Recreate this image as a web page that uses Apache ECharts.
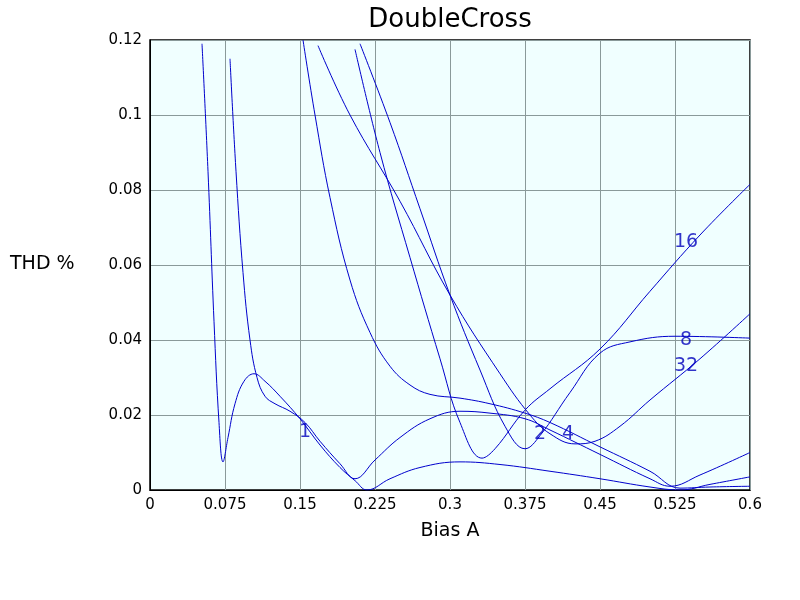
<!DOCTYPE html><html><head><meta charset="utf-8"><script src="https://cdn.jsdelivr.net/npm/echarts@6/dist/echarts.min.js"></script></head><body style="margin:0"><div id="c" style="width:800px;height:600px"></div><script>
const curveC=[[0.052,0.119],[0.058,0.085],[0.064,0.045],[0.069,0.018],[0.073,0.0075],[0.078,0.014],[0.085,0.023],[0.094,0.029],[0.104,0.031],[0.115,0.029],[0.13,0.025],[0.15,0.019],[0.17,0.012],[0.19,0.006],[0.205,0.0025],[0.217,0],[0.24,0.003],[0.27,0.006],[0.31,0.0075],[0.35,0.0068],[0.4,0.005],[0.45,0.003],[0.5,0.0008],[0.53,0],[0.56,0.0015],[0.6,0.0035]];
const curveB=[[0.08,0.115],[0.086,0.085],[0.093,0.058],[0.1,0.04],[0.107,0.03],[0.115,0.025],[0.125,0.023],[0.14,0.021],[0.155,0.018],[0.17,0.013],[0.19,0.007],[0.205,0.003],[0.225,0.008],[0.25,0.014],[0.28,0.019],[0.31,0.021],[0.34,0.0205],[0.375,0.019],[0.4,0.016],[0.45,0.0095],[0.5,0.003],[0.52,0.001],[0.55,0.004],[0.6,0.01]];
const curveP=[[0.153,0.12],[0.165,0.1],[0.18,0.078],[0.2,0.056],[0.22,0.042],[0.24,0.033],[0.26,0.028],[0.28,0.0255],[0.31,0.0245],[0.34,0.023],[0.375,0.0205],[0.4,0.018],[0.45,0.0115],[0.5,0.005],[0.53,0.0005],[0.56,0.0008],[0.6,0.001]];
const curve32=[[0.168,0.1185],[0.2,0.1],[0.25,0.077],[0.3,0.052],[0.35,0.031],[0.38,0.02],[0.4,0.015],[0.425,0.0123],[0.445,0.013],[0.47,0.017],[0.5,0.024],[0.55,0.035],[0.6,0.047]];
const curve16=[[0.205,0.1175],[0.23,0.09],[0.26,0.062],[0.29,0.035],[0.31,0.018],[0.332,0.0085],[0.345,0.011],[0.375,0.0213],[0.4,0.027],[0.45,0.0376],[0.5,0.053],[0.55,0.068],[0.6,0.0815]];
const curve8=[[0.21,0.119],[0.24,0.098],[0.27,0.075],[0.3,0.052],[0.33,0.032],[0.355,0.017],[0.375,0.011],[0.39,0.0145],[0.42,0.026],[0.45,0.0365],[0.48,0.0395],[0.525,0.041],[0.6,0.0405]];
const labels=[['1',0.155,0.0155],['2',0.39,0.015],['4',0.418,0.015],['16',0.536,0.066],['8',0.536,0.040],['32',0.536,0.033]];
const xTicks=[0,0.075,0.15,0.225,0.3,0.375,0.45,0.525,0.6];
const all=[curveC,curveB,curveP,curve32,curve16,curve8];
const series=all.map((d,i)=>({type:'line',data:d,smooth:0.4,showSymbol:false,lineStyle:{color:'#0000cc',width:1},silent:true}));
series.push({type:'scatter',symbolSize:0,silent:true,data:labels.map(l=>({value:[l[1],l[2]],name:l[0]})),label:{show:true,position:'inside',formatter:'{b}',color:'#0000bb',fontSize:19,fontFamily:'DejaVu Sans'}});
const ch=echarts.init(document.getElementById('c'));
ch.setOption({animation:false,
title:{text:'DoubleCross',left:445,textAlign:'center',top:2,textStyle:{fontSize:26,fontWeight:'normal',color:'#000',fontFamily:'DejaVu Sans'}},
grid:{left:150,right:50,top:40,bottom:110,show:true,backgroundColor:'#f0ffff',borderColor:'#000',borderWidth:1.5},
graphic:[{type:'text',left:10,top:255,style:{text:'THD %',fontSize:19,fill:'#000',fontFamily:'DejaVu Sans'}}],
xAxis:{type:'value',min:0,max:0.6,interval:0.075,name:'Bias A',nameLocation:'middle',nameGap:32,nameTextStyle:{fontSize:19,color:'#000',fontFamily:'DejaVu Sans'},axisLine:{lineStyle:{color:'#000'}},axisTick:{show:false},axisLabel:{color:'#000',fontSize:15,fontFamily:'DejaVu Sans',formatter:v=>{const t=xTicks.find(x=>Math.abs(x-v)<1e-6);return String(t!==undefined?t:v);}},splitLine:{lineStyle:{color:'#8a9a9a'}}},
yAxis:{type:'value',min:0,max:0.12,interval:0.02,axisLine:{show:true,lineStyle:{color:'#000'}},axisTick:{show:false},axisLabel:{color:'#000',fontSize:15,fontFamily:'DejaVu Sans',formatter:v=>String(Math.round(v*100)/100)},splitLine:{lineStyle:{color:'#8a9a9a'}}},
series});
</script></body></html>
